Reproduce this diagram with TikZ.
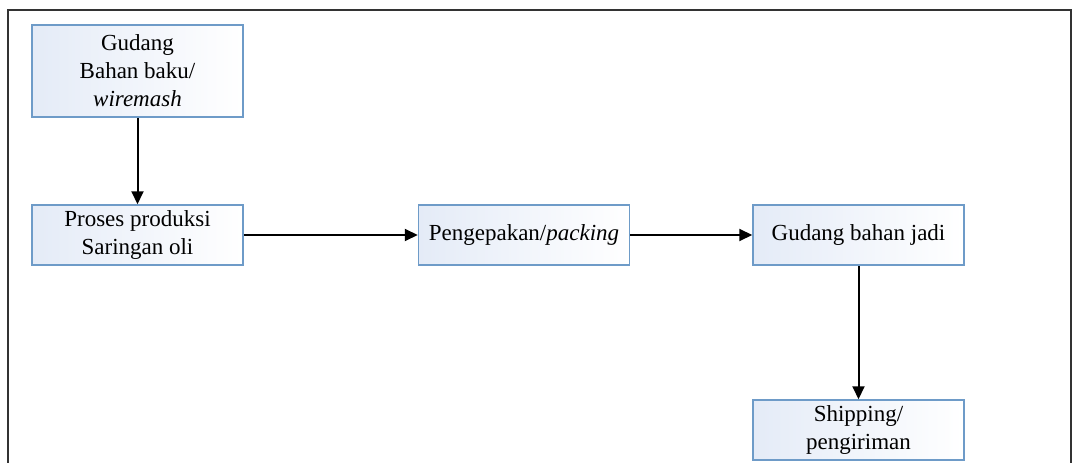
\documentclass[tikz,border=0pt]{standalone}
\usepackage{fontspec}
\setmainfont{Liberation Serif}
\usetikzlibrary{arrows.meta}
\definecolor{boxedge}{RGB}{110,155,200}
\definecolor{boxfill}{RGB}{228,235,247}
\tikzset{
  x=1pt, y=-1pt,
  procbox/.style={draw=boxedge, line width=1.5pt, left color=boxfill, right color=white,
    minimum width=211pt, minimum height=60pt, inner sep=0pt, align=center,
    font=\fontsize{23}{28}\selectfont},
  flow/.style={line width=2pt, -{Triangle[length=13pt,width=12pt]}},
  frame/.style={line width=2pt, draw=black!80}
}
\begin{document}
\begin{tikzpicture}
\useasboundingbox (0,0) rectangle (1072,463);
\draw[frame] (8,463) -- (8,10) -- (1071,10) -- (1071,463);
\node[procbox, minimum height=92pt] (gudang) at (137.5,71) {Gudang\\Bahan baku/\\\textit{wiremash}};
\node[procbox] (proses) at (137.5,235) {Proses produksi\\Saringan oli};
\node[procbox] (pack) at (524,235) {Pengepakan/\textit{packing}};
\node[procbox] (jadi) at (858.5,235) {Gudang bahan jadi};
\node[procbox] (ship) at (858.5,430) {Shipping/\\pengiriman};
\draw[flow] (gudang) -- (proses);
\draw[flow] (proses) -- (pack);
\draw[flow] (pack) -- (jadi);
\draw[flow] (jadi) -- (ship);
\end{tikzpicture}
\end{document}
